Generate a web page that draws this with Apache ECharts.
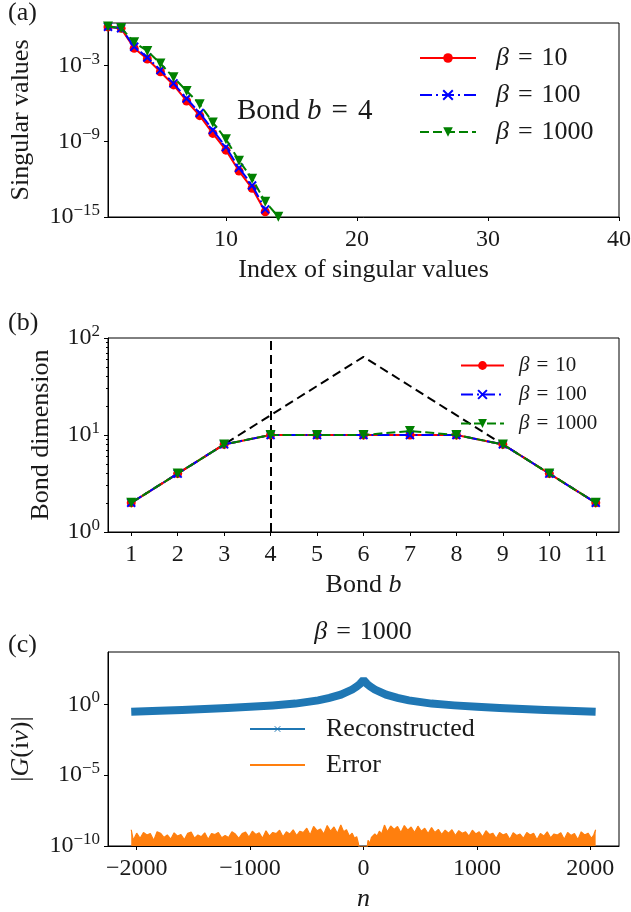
<!DOCTYPE html>
<html><head><meta charset="utf-8">
<script src="https://cdn.jsdelivr.net/npm/echarts@6/dist/echarts.min.js"></script>
<style>html,body{margin:0;padding:0;background:#fff}#c{width:631px;height:912px}</style>
</head><body><div id="c"></div>
<script>
// ---------------- data: panel (a) ----------------
const svIndex = [1,2,3,4,5,6,7,8,9,10,11,12,13,14];
const svBeta10 = [1.2,0.92,2.4e-2,3.4e-3,3.3e-4,3.0e-5,1.6e-6,1.1e-7,4.3e-9,2.0e-10,4.4e-12,1.9e-13,2.6e-15];
const svBeta100 = [1.25,0.95,3.2e-2,4.5e-3,4.5e-4,4.0e-5,2.5e-6,1.8e-7,7.9e-9,3.5e-10,7.9e-12,3.2e-13,4.0e-15];
const svBeta1000 = [1.3,1.0,7.2e-2,1.5e-2,1.5e-3,1.2e-4,1.0e-5,8.7e-7,3.2e-8,1.5e-9,2.9e-11,1.1e-12,1.6e-14,1.05e-15];
const svXTicks = [10,20,30,40];
const svYTicks = [1e-15,1e-9,1e-3];

// ---------------- data: panel (b) ----------------
const bonds = [1,2,3,4,5,6,7,8,9,10,11];
const bondDimBeta10 = [2,4,8,10,10,10,10,10,8,4,2];
const bondDimBeta100 = [2,4,8,10,10,10,10,10,8,4,2];
const bondDimBeta1000 = [2,4,8,10,10,10,11,10,8,4,2];
const maxBondDim = [2,4,8,16,32,64,32,16,8,4,2];
const cutBond = 4;
const bondYTicks = [1,10,100];

// ---------------- data: panel (c) ----------------
const matsN = [-2048,-1800,-1600,-1400,-1200,-1000,-800,-600,-400,-300,-200,-150,-100,-60,-30,-10,0,10,30,60,100,150,200,300,400,600,800,1000,1200,1400,1600,1800,2047];
const gAbs = [0.30,0.35,0.40,0.46,0.54,0.66,0.83,1.12,1.9,2.8,4.8,7.2,11,18,28,42,52,42,28,18,11,7.2,4.8,2.8,1.9,1.12,0.84,0.68,0.55,0.46,0.40,0.35,0.30];
const errN = [-2048,-2030,-2000,-1970,-1940,-1910,-1880,-1850,-1820,-1790,-1760,-1730,-1700,-1670,-1640,-1610,-1580,-1550,-1520,-1490,-1460,-1430,-1400,-1370,-1340,-1310,-1280,-1250,-1220,-1190,-1160,-1130,-1100,-1070,-1040,-1010,-980,-950,-920,-890,-860,-830,-800,-770,-740,-710,-680,-650,-620,-590,-560,-530,-500,-470,-440,-410,-380,-350,-320,-290,-260,-230,-200,-175,-150,-125,-100,-80,-60,-45,-35,-20,0,20,30,40,55,70,85,100,120,140,160,185,210,240,270,300,330,360,390,420,450,480,510,540,570,600,630,660,690,720,750,780,810,840,870,900,930,960,990,1020,1050,1080,1110,1140,1170,1200,1230,1260,1290,1320,1350,1380,1410,1440,1470,1500,1530,1560,1590,1620,1650,1680,1710,1740,1770,1800,1830,1860,1890,1920,1950,1980,2010,2030,2047];
const errVals = [
  1.4e-9,2.5e-10,8.0e-10,
  3.5e-10,9.0e-10,6.0e-10,7.5e-10,2.5e-10,1.0e-9,8.0e-10,4.0e-10,6.0e-10,3.0e-10,
  8.5e-10,5.0e-10,6.5e-10,2.8e-10,8.0e-10,9.5e-10,3.5e-10,6.0e-10,4.5e-10,8.5e-10,
  3.0e-10,7.5e-10,6.5e-10,9.0e-10,3.8e-10,5.5e-10,4.0e-10,1.0e-9,7.0e-10,3.5e-10,
  7.5e-10,9.5e-10,4.2e-10,1.1e-9,6.5e-10,8.5e-10,3.5e-10,1.2e-9,5.0e-10,9.0e-10,
  7.5e-10,1.3e-9,4.5e-10,1.0e-9,7.0e-10,1.4e-9,5.5e-10,1.1e-9,9.0e-10,1.8e-9,
  6.0e-10,2.4e-9,1.2e-9,1.6e-9,7.0e-10,2.8e-9,1.1e-9,2.2e-9,8.0e-10,3.0e-9,
  1.0e-9,1.4e-9,5.0e-10,8.0e-10,3.5e-10,4.5e-10,1.5e-10,4.0e-11,2.0e-11,1.0e-11,
  2.0e-11,5.0e-11,2.5e-10,1.5e-10,4.0e-10,3.0e-10,7.0e-10,5.0e-10,1.1e-9,7.0e-10,3.0e-9,
  1.0e-9,2.6e-9,1.5e-9,2.4e-9,9.0e-10,2.8e-9,1.3e-9,2.2e-9,9.0e-10,2.5e-9,
  1.1e-9,1.8e-9,7.5e-10,2.0e-9,9.0e-10,1.5e-9,6.5e-10,1.3e-9,8.0e-10,1.4e-9,
  5.5e-10,1.2e-9,8.0e-10,1.0e-9,5.0e-10,1.3e-9,7.0e-10,1.0e-9,4.5e-10,1.2e-9,
  6.5e-10,8.0e-10,3.5e-10,9.0e-10,6.0e-10,7.5e-10,3.0e-10,8.5e-10,5.5e-10,7.0e-10,
  3.5e-10,9.0e-10,6.0e-10,8.0e-10,2.8e-10,7.5e-10,5.0e-10,1.0e-9,3.8e-10,7.0e-10,
  6.0e-10,8.5e-10,3.0e-10,9.0e-10,5.5e-10,7.5e-10,2.8e-10,1.0e-9,6.0e-10,8.0e-10,3.5e-10,
  6.0e-10,1.4e-9
];
const nTicks = [-2000,-1000,0,1000,2000];
const gYTicks = [1e-10,1e-5,1];

// ---------------- styling ----------------
const F = '"Liberation Serif", "DejaVu Serif", serif';
const TXT = '#1a1a1a';
const RED = '#ff0000', BLUE = '#0000ff', GREEN = '#008000', C0 = '#1f77b4', C1 = '#ff7f0e';
const XPATH = 'path://M0,0L10,10M10,0L0,10';
const pairs = (xs, ys) => ys.map((y, i) => [xs[i], y]);
const minus = v => (v < 0 ? '\u2212' + (-v) : String(v));
const pow10 = v => { const e = Math.round(Math.log10(v)); return '{b|10}{s|' + (e < 0 ? '\u2212' : '') + Math.abs(e) + '}'; };
const tickRich = {
  b: {fontFamily: F, fontSize: 24, color: TXT, lineHeight: 30},
  s: {fontFamily: F, fontSize: 17, color: TXT, lineHeight: 18, verticalAlign: 'top'}
};
const mathRich = (fs, eqPad) => ({
  i: {fontFamily: F, fontSize: fs, fontStyle: 'italic', fontWeight: 'normal', color: TXT, lineHeight: fs + 4},
  r: {fontFamily: F, fontSize: fs, fontWeight: 'normal', color: TXT, lineHeight: fs + 4},
  e: {fontFamily: F, fontSize: fs, fontWeight: 'normal', color: TXT, lineHeight: fs + 4, padding: [0, eqPad || 0, 0, eqPad || 0]}
});
const eqFmt = s => '{r|' + s.replace('β', '}{i|β}{r|').replace(' = ', '}{e|=}{r|') + '}';

function xAxisLin(gi, min, max, ticks, name, gap, rich) {
  return {
    type: 'value', gridIndex: gi, min: min, max: max,
    name: name, nameLocation: 'middle', nameGap: gap,
    nameTextStyle: {fontFamily: F, fontSize: 26, color: TXT, lineHeight: 30, rich: rich},
    axisLine: {show: true, onZero: false, lineStyle: {color: '#000', width: 1}},
    axisTick: {show: true, length: 4, lineStyle: {color: '#000'}, customValues: ticks},
    axisLabel: {show: true, margin: 9, fontFamily: F, fontSize: 24, color: TXT, lineHeight: 28, customValues: ticks, formatter: minus},
    splitLine: {show: false}
  };
}
function yAxisLog(gi, min, max, ticks, name, gap, rich, minor) {
  return {
    type: 'log', logBase: 10, gridIndex: gi, min: min, max: max,
    name: name, nameLocation: 'middle', nameGap: gap, nameRotate: 90,
    nameTextStyle: {fontFamily: F, fontSize: 26, color: TXT, lineHeight: 30, rich: rich},
    axisLine: {show: true, onZero: false, lineStyle: {color: '#000', width: 1}},
    axisTick: {show: true, length: 4, lineStyle: {color: '#000'}, customValues: ticks},
    minorTick: {show: !!minor, splitNumber: 9, length: 2, lineStyle: {color: '#000'}},
    axisLabel: {show: true, margin: 8, customValues: ticks, formatter: pow10, rich: tickRich},
    splitLine: {show: false}, minorSplitLine: {show: false}
  };
}

const chart = echarts.init(document.getElementById('c'), null, {renderer: 'canvas'});
const option = {
  animation: false,
  backgroundColor: '#fff',
  textStyle: {fontFamily: F},
  grid: [
    {left: 108, right: 12, top: 23, height: 194, show: true, borderColor: '#000', borderWidth: 1, containLabel: false, outerBoundsMode: 'none'},
    {left: 108, right: 12, top: 338, height: 194, show: true, borderColor: '#000', borderWidth: 1, containLabel: false, outerBoundsMode: 'none'},
    {left: 108, right: 12, top: 652, height: 194, show: true, borderColor: '#000', borderWidth: 1, containLabel: false, outerBoundsMode: 'none'}
  ],
  xAxis: [
    xAxisLin(0, 1, 40, svXTicks, 'Index of singular values', 36, {}),
    xAxisLin(1, 0.5, 11.5, bonds, 'Bond {i|b}', 38, mathRich(26)),
    xAxisLin(2, -2253, 2253, nTicks, '{i|n}', 28, mathRich(26))
  ],
  yAxis: [
    yAxisLog(0, 1e-15, 2.45, svYTicks, 'Singular values', 72, {}, false),
    yAxisLog(1, 1, 100, bondYTicks, 'Bond dimension', 49, {}, true),
    yAxisLog(2, 1e-10, 4900, gYTicks, '|{i|G}(i{i|ν})|', 72, mathRich(26), false)
  ],
  title: [
    {text: '(a)', left: 8, top: 0, padding: 0, textStyle: {fontFamily: F, fontSize: 26, fontWeight: 'normal', color: TXT}},
    {text: '(b)', left: 8, top: 310, padding: 0, textStyle: {fontFamily: F, fontSize: 26, fontWeight: 'normal', color: TXT}},
    {text: '(c)', left: 8, top: 632, padding: 0, textStyle: {fontFamily: F, fontSize: 26, fontWeight: 'normal', color: TXT}},
    {text: '{r|Bond }{i|b}{e|=}{r|4}', left: 237, top: 95, padding: 0, textStyle: {fontWeight: 'normal', rich: mathRich(29, 10)}},
    {text: eqFmt('β = 1000'), left: 363, top: 617, textAlign: 'center', padding: 0, textStyle: {fontWeight: 'normal', rich: mathRich(26, 9)}}
  ],
  legend: [
    {
      data: ['β = 10', 'β = 100', 'β = 1000'], orient: 'vertical', left: 419, top: 45,
      itemWidth: 56, itemHeight: 12, itemGap: 11, selectedMode: false, padding: 0,
      formatter: n => '{g| }' + eqFmt(n),
      textStyle: {rich: Object.assign({g: {width: 15}}, mathRich(26, 9))}
    },
    {
      data: ['β = 10', 'β = 100', 'β = 1000'], orient: 'vertical', left: 460, top: 355,
      itemWidth: 43, itemHeight: 11, itemGap: 8, selectedMode: false, padding: 0,
      formatter: n => '{g| }' + eqFmt(n),
      textStyle: {rich: Object.assign({g: {width: 10}}, mathRich(21, 7))}
    },
    {
      data: [{name: 'Reconstructed', lineStyle: {width: 2}, itemStyle: {borderWidth: 1}}, {name: 'Error', itemStyle: {opacity: 0}}],
      orient: 'vertical', left: 249, top: 716,
      itemWidth: 55, itemHeight: 7, itemGap: 10, selectedMode: false, padding: 0,
      formatter: n => '{g| }{r|' + n + '}',
      textStyle: {rich: Object.assign({g: {width: 16}}, mathRich(26))}
    }
  ],
  series: [
    // panel (a)
    {name: 'β = 10', type: 'line', xAxisIndex: 0, yAxisIndex: 0, data: pairs(svIndex, svBeta10),
      symbol: 'circle', symbolSize: 9, lineStyle: {color: RED, width: 2}, itemStyle: {color: RED}, z: 3},
    {name: 'β = 100', type: 'line', xAxisIndex: 0, yAxisIndex: 0, data: pairs(svIndex, svBeta100),
      symbol: XPATH, symbolSize: 8, lineStyle: {color: BLUE, width: 2, type: [12, 4, 2, 4]}, itemStyle: {color: BLUE, borderColor: BLUE, borderWidth: 2}, z: 4},
    {name: 'β = 1000', type: 'line', xAxisIndex: 0, yAxisIndex: 0, data: pairs(svIndex, svBeta1000),
      symbol: 'triangle', symbolRotate: 180, symbolSize: 10, lineStyle: {color: GREEN, width: 2, type: [9, 4]}, itemStyle: {color: GREEN}, z: 5},
    // panel (b)
    {name: 'max', type: 'line', xAxisIndex: 1, yAxisIndex: 1, data: pairs(bonds, maxBondDim),
      symbol: 'none', lineStyle: {color: '#000', width: 2, type: [9, 5]}, z: 2,
      markLine: {silent: true, symbol: 'none', label: {show: false}, lineStyle: {color: '#000', width: 2, type: [9, 5]}, data: [{xAxis: cutBond}]}},
    {name: 'β = 10', type: 'line', xAxisIndex: 1, yAxisIndex: 1, data: pairs(bonds, bondDimBeta10),
      symbol: 'circle', symbolSize: 9, lineStyle: {color: RED, width: 2}, itemStyle: {color: RED}, z: 3},
    {name: 'β = 100', type: 'line', xAxisIndex: 1, yAxisIndex: 1, data: pairs(bonds, bondDimBeta100),
      symbol: XPATH, symbolSize: 8, lineStyle: {color: BLUE, width: 2, type: [12, 4, 2, 4]}, itemStyle: {color: BLUE, borderColor: BLUE, borderWidth: 2}, z: 4},
    {name: 'β = 1000', type: 'line', xAxisIndex: 1, yAxisIndex: 1, data: pairs(bonds, bondDimBeta1000),
      symbol: 'triangle', symbolRotate: 180, symbolSize: 10, lineStyle: {color: GREEN, width: 2, type: [9, 4]}, itemStyle: {color: GREEN}, z: 5},
    // panel (c)
    {name: 'Reconstructed', type: 'line', xAxisIndex: 2, yAxisIndex: 2, data: pairs(matsN, gAbs),
      symbol: XPATH, symbolSize: 6, showSymbol: false, lineStyle: {color: C0, width: 8, cap: 'butt', join: 'miter'}, itemStyle: {color: C0, borderColor: C0, borderWidth: 1}, z: 3},
    {name: 'Error', type: 'line', xAxisIndex: 2, yAxisIndex: 2, data: pairs(errN, errVals),
      symbol: 'none', lineStyle: {color: C1, width: 1.2}, itemStyle: {color: C1},
      areaStyle: {color: C1, opacity: 1, origin: 'start'}, z: 4}
  ]
};
chart.setOption(option);
</script>
</body></html>
